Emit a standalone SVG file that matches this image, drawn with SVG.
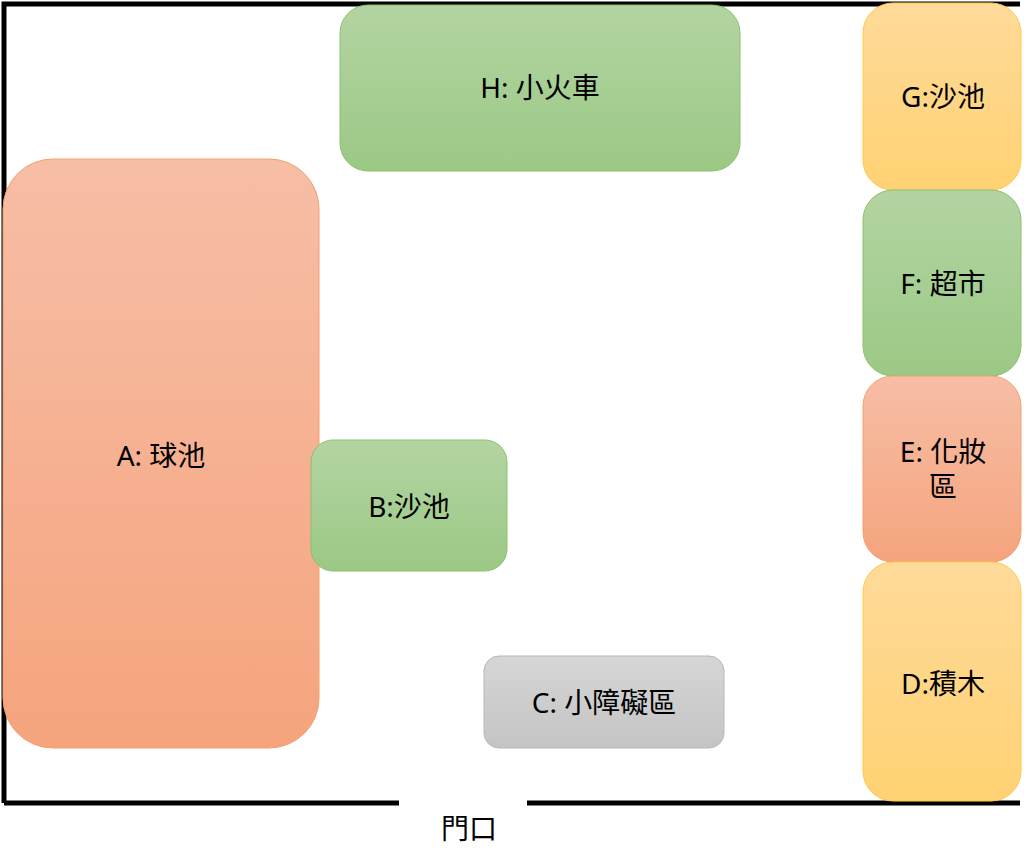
<svg xmlns="http://www.w3.org/2000/svg" width="1024" height="864" viewBox="0 0 1024 864">
<defs>
<linearGradient id="gOrange" x1="0" y1="0" x2="0" y2="1"><stop offset="0" stop-color="#F7BEA6"/><stop offset="1" stop-color="#F5A47D"/></linearGradient>
<linearGradient id="gGreen" x1="0" y1="0" x2="0" y2="1"><stop offset="0" stop-color="#B3D4A2"/><stop offset="1" stop-color="#9BC985"/></linearGradient>
<linearGradient id="gGold" x1="0" y1="0" x2="0" y2="1"><stop offset="0" stop-color="#FFDA9A"/><stop offset="1" stop-color="#FFD273"/></linearGradient>
<linearGradient id="gGray" x1="0" y1="0" x2="0" y2="1"><stop offset="0" stop-color="#D6D6D6"/><stop offset="1" stop-color="#C4C4C4"/></linearGradient>
</defs>
<style>
.wall{stroke:#000;stroke-width:5;fill:none}
.orange{fill:url(#gOrange);stroke:#F4A06E;stroke-width:1}
.green{fill:url(#gGreen);stroke:#8CC06E;stroke-width:1}
.gold{fill:url(#gGold);stroke:#FFC94A;stroke-width:1}
.gray{fill:url(#gGray);stroke:#B8B8B8;stroke-width:1}
text{font-family:"Noto Sans","Noto Sans CJK TC",sans-serif;font-size:28px;fill:#000;text-anchor:middle}
</style>
<rect width="1024" height="864" fill="#fff"/>
<g id="walls">
<path class="wall" d="M4,803 V4 H1020"/>
<path class="wall" d="M4,803 H399"/>
<path class="wall" d="M527,803 H1020"/>
</g>
<g id="H"><rect class="green" x="340" y="5" width="400" height="166" rx="28"/><text x="540" y="98">H: 小火車</text></g>
<g id="A"><rect class="orange" x="3" y="159" width="316" height="589" rx="50"/><text x="161" y="466">A: 球池</text></g>
<g id="B"><rect class="green" x="311" y="440" width="196" height="131" rx="22"/><text x="409" y="517">B:沙池</text></g>
<g id="C"><rect class="gray" x="484" y="656" width="240" height="92" rx="15"/><text x="604" y="713">C: 小障礙區</text></g>
<g id="G"><rect class="gold" x="863" y="3" width="158" height="187" rx="30"/><text x="943" y="107">G:沙池</text></g>
<g id="F"><rect class="green" x="863" y="190" width="158" height="186" rx="30"/><text x="943" y="294">F: 超市</text></g>
<g id="E"><rect class="orange" x="863" y="376" width="158" height="186" rx="30"/><text x="943" y="462">E: 化妝</text><text x="943" y="497">區</text></g>
<g id="D"><rect class="gold" x="863" y="562" width="158" height="239" rx="30"/><text x="943" y="694">D:積木</text></g>
<g id="door"><text x="469" y="839">門口</text></g>
</svg>
